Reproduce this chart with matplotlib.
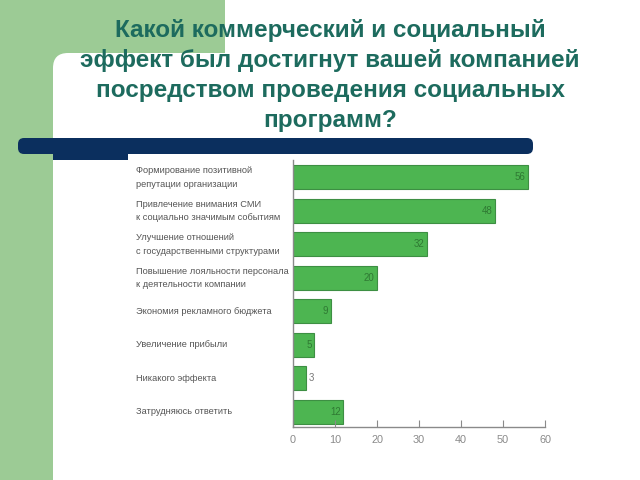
import matplotlib
matplotlib.use("Agg")
import matplotlib.pyplot as plt
from matplotlib.patches import Rectangle, FancyBboxPatch

categories = [
    "Формирование позитивной\nрепутации организации",
    "Привлечение внимания СМИ\nк социально значимым событиям",
    "Улучшение отношений\nс государственными структурами",
    "Повышение лояльности персонала\nк деятельности компании",
    "Экономия рекламного бюджета",
    "Увеличение прибыли",
    "Никакого эффекта",
    "Затрудняюсь ответить",
]
values = [56, 48, 32, 20, 9, 5, 3, 12]
xticks = [0, 10, 20, 30, 40, 50, 60]
title = ("Какой коммерческий и социальный\nэффект был достигнут вашей компанией\n"
         "посредством проведения социальных\nпрограмм?")

plt.rcParams['font.family'] = ['Liberation Sans', 'DejaVu Sans']

fig = plt.figure(figsize=(6.4, 4.8), dpi=100)
fig.patch.set_facecolor('white')

# background decoration in pixel coordinates
bg = fig.add_axes([0, 0, 1, 1], zorder=0)
bg.set_xlim(0, 640)
bg.set_ylim(480, 0)
bg.axis('off')
lg = '#9ccb95'
bg.add_patch(Rectangle((0, 0), 53, 480, color=lg, lw=0))
bg.add_patch(Rectangle((0, 0), 225, 70, color=lg, lw=0))
bg.add_patch(FancyBboxPatch((68, 68), 572, 420, boxstyle="round,pad=15",
                            color='white', lw=0))
navy = '#0b2f5e'
bg.add_patch(FancyBboxPatch((24, 144), 503, 4, boxstyle="round,pad=6",
                            color=navy, lw=0))
bg.add_patch(Rectangle((53, 148), 75, 12, color=navy, lw=0))

bg.text(330, 75.5, title, ha='center', va='center', fontsize=17.5,
        fontweight='bold', color='#1d6b5e', linespacing=1.38)

# chart
ax = fig.add_axes([293/640, 1-427/480, (545-293)/640, (427-160)/480], zorder=1)
ax.patch.set_alpha(0)
ypos = list(range(len(values)))
ax.barh(ypos, values, height=0.72, color='#4db551', edgecolor='#3d8f43', lw=0.8)
ax.set_xlim(0, 60)
ax.set_ylim(7.45, -0.52)
ax.set_xticks(xticks)
ax.set_xticklabels([str(t) for t in xticks])
ax.set_yticks([])
for s in ['top', 'right']:
    ax.spines[s].set_visible(False)
for s in ['left', 'bottom']:
    ax.spines[s].set_color('#8a8a8a')
    ax.spines[s].set_linewidth(1.0)
ax.tick_params(axis='x', direction='in', length=5, color='#8a8a8a',
               labelcolor='#8a8a8a', labelsize=7.8, pad=6)

for y, v in zip(ypos, values):
    if v >= 4:
        ax.text(v - 0.6, y, str(v), ha='right', va='center', fontsize=7,
                color='#2f7a33')
    else:
        ax.text(v + 0.8, y, str(v), ha='left', va='center', fontsize=7,
                color='#777777')

for y, c in zip(ypos, categories):
    ax.text(-37.4, y, c, ha='left', va='center', fontsize=6.7, color='#555555',
            linespacing=1.6, transform=ax.transData)

fig.savefig('out.png', dpi=100)
